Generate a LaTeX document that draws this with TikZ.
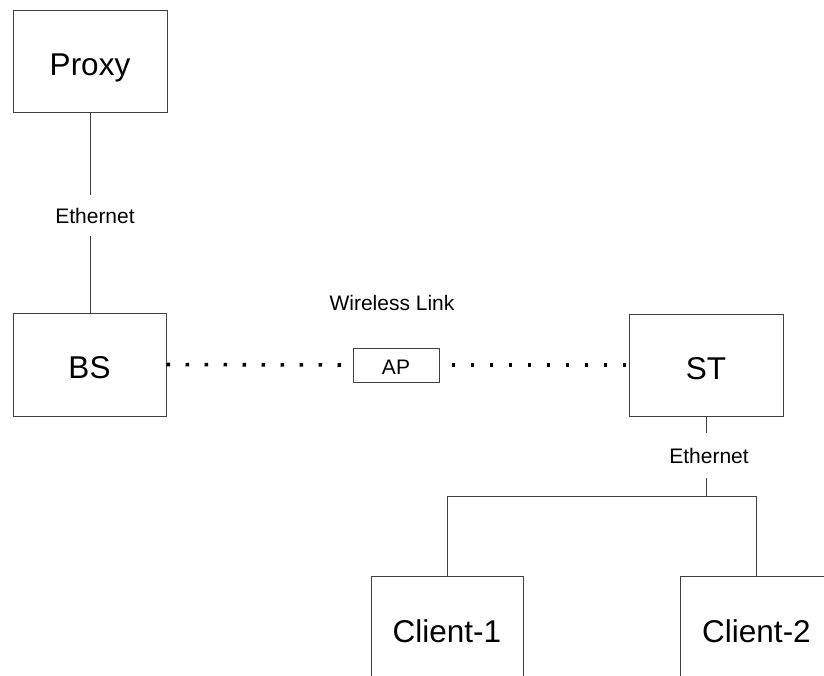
\documentclass[tikz,border=0pt]{standalone}
\usepackage{fontspec}
\setmainfont{Liberation Sans}
\tikzset{
  wire/.style={draw=black!75, line width=1pt},
  unitbox/.style={draw=black!75, line width=1pt, rectangle, inner sep=0pt,
    minimum width=154pt, minimum height=102pt,
    font=\fontsize{31.5}{34}\selectfont, text height=28pt, text depth=0pt},
  apbox/.style={draw=black!75, line width=1pt, rectangle, inner sep=0pt,
    minimum width=86pt, minimum height=34pt,
    font=\fontsize{21}{24}\selectfont, text height=18pt, text depth=0pt},
  linklabel/.style={inner sep=0pt, font=\fontsize{21}{24}\selectfont,
    text height=15pt, text depth=0pt},
  radio/.style={draw=black, line width=3.6pt, line cap=butt,
    dash pattern=on 3.6pt off 15.4pt},
}
\begin{document}
\begin{tikzpicture}[x=1pt, y=-1pt]
  \useasboundingbox (0,0) rectangle (824,675);
  \clip (0,0) rectangle (824,675);

  % equipment boxes
  \node[unitbox] (proxy) at (90,61.5) {Proxy};
  \node[unitbox, minimum width=153pt, minimum height=103pt] (bs) at (89.5,364.5) {BS};
  \node[apbox] (ap) at (396,365) {AP};
  \node[unitbox] (st) at (706,365) {ST};
  \node[unitbox, minimum width=152pt, minimum height=104pt] (c1) at (447,628) {Client-1};
  \node[unitbox, minimum width=153pt, minimum height=104pt] (c2) at (756.5,628) {Client-2};

  % link labels
  \node[linklabel, minimum height=41pt] (eth1) at (95,215.5) {Ethernet};
  \node[linklabel, minimum height=45pt] (eth2) at (709,455.5) {Ethernet};
  \node[linklabel, anchor=base] (wl) at (392,310) {Wireless Link};

  % wired links
  \draw[wire] (proxy.south) -- (proxy.south |- eth1.north);
  \draw[wire] (proxy.south |- eth1.south) -- (proxy.south |- bs.north);
  \coordinate (bus) at (706,496.5);
  \draw[wire] (st.south) -- (st.south |- eth2.north);
  \draw[wire] (st.south |- eth2.south) -- (bus);
  \draw[wire] (c1.north) -- (c1.north |- bus) -- (c2.north |- bus) -- (c2.north);

  % wireless hops
  \draw[radio] (bs.east) -- (ap.west);
  \draw[radio, dash phase=7pt] (ap.east) -- (st.west);
\end{tikzpicture}
\end{document}
